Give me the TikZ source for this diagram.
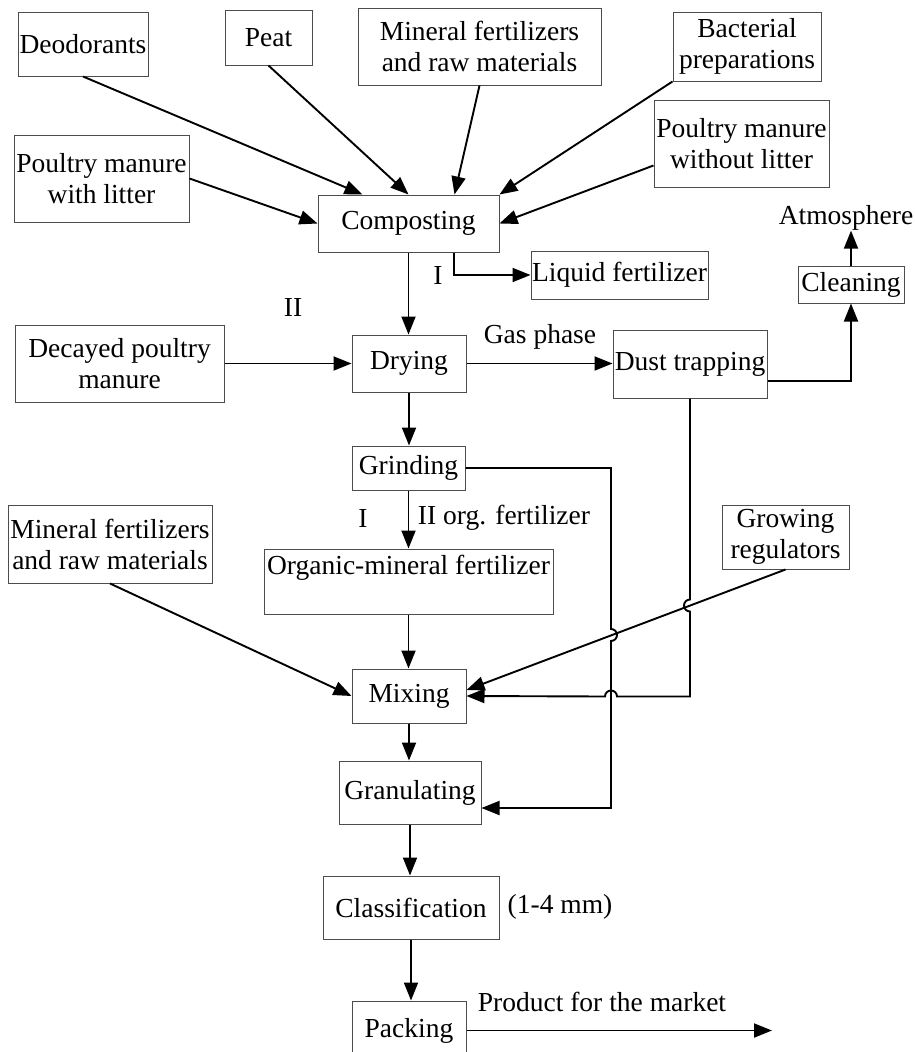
\documentclass[tikz,border=0pt]{standalone}
\usepackage{fontspec}
\setmainfont{Liberation Serif}
\usetikzlibrary{arrows.meta,calc}
\tikzset{
 box/.style={draw=black!70, line width=1pt, inner sep=0pt, align=center, font=\fontsize{27.5}{31}\selectfont},
 lbl/.style={inner sep=0pt, font=\fontsize{27.5}{31}\selectfont},
 arr/.style={line width=1.9pt, -{Triangle[length=18pt,width=14pt]}},
}
\begin{document}
\begin{tikzpicture}[x=1pt,y=1pt]
\useasboundingbox (0,0) rectangle (915,-1052);
\clip (0,0) rectangle (915,-1052);
\fill[white] (0,0) rectangle (915,-1052);
% boxes
\node[box, minimum width=130, minimum height=64] (deo) at (83,-44) {Deodorants};
\node[box, minimum width=87, minimum height=55] (peat) at (268.5,-37.5) {Peat};
\node[box, minimum width=243, minimum height=77] (min1) at (479.5,-46.5) {Mineral fertilizers\\and raw materials};
\node[box, minimum width=148, minimum height=69] (bact) at (747,-46.5) {Bacterial\\preparations};
\node[box, minimum width=175, minimum height=87] (pmwo) at (741.5,-143.5) {Poultry manure\\without litter};
\node[box, minimum width=175, minimum height=87] (pmw) at (101.5,-178.5) {Poultry manure\\with litter};
\node[box, minimum width=181, minimum height=57] (comp) at (408.5,-223.5) {Composting};
\node[box, minimum width=177, minimum height=48] (liq) at (619.5,-275) {Liquid fertilizer};
\node[box, minimum width=106, minimum height=37] (clean) at (851,-284.5) {Cleaning};
\node[lbl] (atm) at (846,-218) {Atmosphere};
\node[box, minimum width=209, minimum height=77] (decay) at (119.5,-363.5) {Decayed poultry\\manure};
\node[box, minimum width=114, minimum height=57] (dry) at (409,-363.5) {Drying};
\node[box, minimum width=154, minimum height=68] (dust) at (690,-364) {Dust trapping};
\node[box, minimum width=113, minimum height=44] (grind) at (408.5,-468) {Grinding};
\node[box, minimum width=204, minimum height=78] (min2) at (110,-544) {Mineral fertilizers\\and raw materials};
\node[box, minimum width=127, minimum height=64] (grow) at (785.5,-537) {Growing\\regulators};
\node[box, minimum width=289, minimum height=65, text height=25, text depth=40] (orgmin) at (408.5,-581.5) {Organic-mineral fertilizer};
\node[box, minimum width=114, minimum height=54] (mix) at (409,-696) {Mixing};
\node[box, minimum width=142, minimum height=63] (gran) at (410,-792.5) {Granulating};
\node[box, minimum width=176, minimum height=63] (class) at (411,-907.5) {Classification};
\node[box, minimum width=114, minimum height=59] (pack) at (409,-1030.5) {Packing};
% labels
\node[lbl] (l1) at (438,-275) {I};
\node[lbl] (l2) at (293,-307) {II};
\node[lbl] (gas) at (540,-337) {Gas phase};
\node[lbl] (l3) at (363,-518) {I};
\node[lbl] (l4) at (504,-518) {II org. fertilizer};
\node[lbl] (mm) at (560,-907) {(1-4 mm)};
\node[lbl] (prod) at (602,-1002) {Product for the market};
\coordinate (mkt) at (772,-1030.5);
\coordinate (lqx) at (454,0);
\coordinate (gx) at (611,0);
% connectors
\draw[arr] (deo.south) -- ($(comp.north west)+(45,0)$);
\draw[arr] (peat.south) -- (comp.north);
\draw[arr] (min1.south) -- ($(comp.north)+(46,0)$);
\draw[arr] (bact.south west) -- (comp.north east);
\draw[arr] ($(pmwo.west)+(0,-22)$) -- (comp.east);
\draw[arr] (pmw.east) -- (comp.west);
\draw[arr] (comp.south) -- (comp.south |- dry.north);
\draw[arr] (comp.south -| lqx) |- (liq.west);
\draw[arr] (decay.east) -- (decay.east -| dry.west);
\draw[arr] (dry.east) -- (dry.east -| dust.west);
\draw[arr] ($(dust.east)+(0,-17)$) -| (clean.south);
\draw[arr] (clean.north) -- (clean.north |- atm.south);
\draw[arr] (dry.south) -- (dry.south |- grind.north);
\draw[arr] (grind.south) -- (grind.south |- orgmin.north);
\draw[arr] (orgmin.south) -- (orgmin.south |- mix.north);
\draw[arr] (min2.south) -- (mix.west);
\draw[arr] (grow.south) -- ($(mix.east)+(0,6)$);
\draw[arr] (mix.south) -- (mix.south |- gran.north);
\draw[arr] (gran.south) -- (gran.south |- class.north);
\draw[arr] (class.south) -- (class.south |- pack.north);
\draw[arr] (pack.east) -- (mkt);
\draw[arr] (grind.east) -| ($(gx)+(0,-629)$) arc[start angle=90,end angle=-90,radius=6] |- ($(gran.east)+(0,-15.5)$);
\draw[arr] (dust.south) -- ++(0,-201) arc[start angle=90,end angle=270,radius=6] -- ++(0,-85) -- ++(-73,0) arc[start angle=0,end angle=180,radius=6] -- (mix.east);
\end{tikzpicture}
\end{document}
